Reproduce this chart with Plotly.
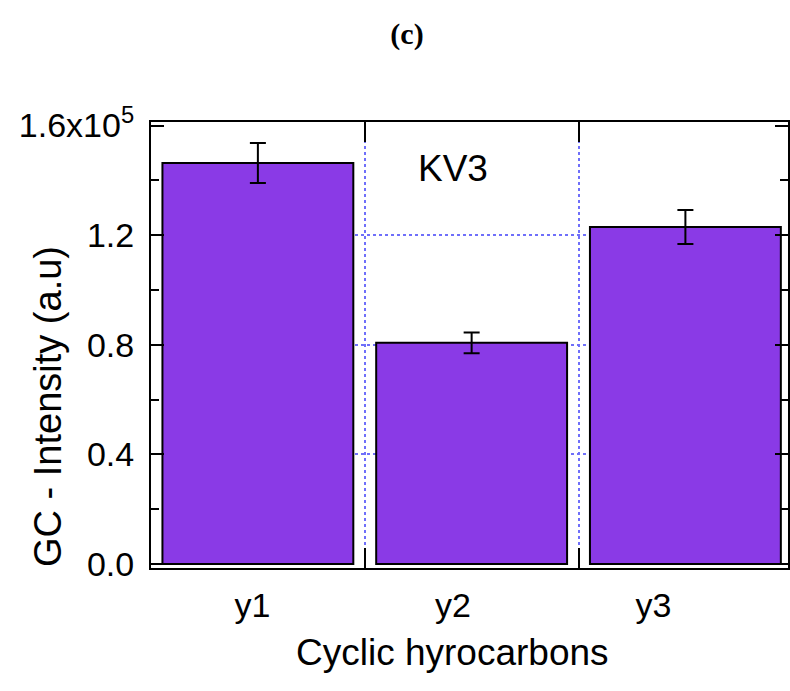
import plotly.graph_objects as go

categories = ["y1", "y2", "y3"]
intensity = [146300, 80700, 123000]
intensity_err = [7300, 3800, 6200]
ytick_vals = [0, 40000, 80000, 120000, 160000]
ytick_text = ["0.0", "0.4", "0.8", "1.2", "1.6x10<sup>5</sup>"]
yminor_vals = [20000, 60000, 100000, 140000]
ygrid_vals = [40000, 80000, 120000]

W, H = 790, 691
L, R, T, B = 151, 2, 122, 123
FONT = "Liberation Sans, Arial, sans-serif"
BAR = "#8a3ae6"
GRID = "#6f6ffa"
YRANGE = [-1500, 161300]

fig = go.Figure()
fig.add_trace(go.Bar(
    x=categories, y=intensity,
    marker=dict(color=BAR, line=dict(color="black", width=2)),
    error_y=dict(type="data", array=intensity_err, color="black", thickness=2, width=8),
    showlegend=False, hoverinfo="skip",
))
# invisible companion trace: carries the dotted horizontal gridlines (y2 overlay)
fig.add_trace(go.Scatter(
    x=categories, y=intensity, xaxis="x", yaxis="y2", mode="markers",
    marker=dict(opacity=0), showlegend=False, hoverinfo="skip",
))
# invisible companion trace: carries the category tick labels (x2)
fig.add_trace(go.Scatter(
    x=categories, y=intensity, xaxis="x2", yaxis="y", mode="markers",
    marker=dict(opacity=0), showlegend=False, hoverinfo="skip",
))

pw = W - L - R
d0 = (152.25 - L) / pw
d1 = (753.75 - L) / pw

fig.update_layout(
    width=W, height=H,
    margin=dict(l=L, r=R, t=T, b=B, pad=0),
    paper_bgcolor="white", plot_bgcolor="rgba(0,0,0,0)",
    bargap=0.107,
    title=dict(text="<b>(c)</b>", x=407 / W, xanchor="center", y=1 - 33 / H, yanchor="middle",
               automargin=False,
               font=dict(family="Liberation Serif, Times New Roman, serif", size=30, color="black")),
    xaxis=dict(
        type="category", domain=[0, 1], range=[-0.5, 2.48], tickson="boundaries", automargin=False,
        showticklabels=False, ticks="inside", ticklen=20, tickwidth=2, tickcolor="black",
        showline=True, linewidth=2, linecolor="black", mirror="ticks",
        showgrid=True, gridcolor=GRID, gridwidth=1.5, griddash="dot",
    ),
    xaxis2=dict(
        type="category", anchor="y", side="bottom", domain=[d0, d1],
        range=[-0.5, 2.5], automargin=False,
        showgrid=False, showline=False, zeroline=False, ticks="",
        tickfont=dict(family=FONT, size=34, color="black"), ticklabelstandoff=14,
    ),
    yaxis=dict(
        range=YRANGE, tickmode="array", tickvals=ytick_vals, ticktext=ytick_text,
        automargin=False, anchor="x",
        ticks="inside", ticklen=13, tickwidth=2, tickcolor="black",
        minor=dict(tickvals=yminor_vals, ticks="inside", ticklen=8, tickwidth=2, tickcolor="black", showgrid=False),
        showline=True, linewidth=2, linecolor="black", mirror="ticks",
        showgrid=False, zeroline=False,
        tickfont=dict(family=FONT, size=34, color="black"), ticklabelstandoff=8,
    ),
    yaxis2=dict(
        overlaying="y", anchor="x", range=YRANGE, tickmode="array", tickvals=ygrid_vals,
        automargin=False, showticklabels=False, ticks="", showline=False, zeroline=False,
        showgrid=True, gridcolor=GRID, gridwidth=1.5, griddash="dot",
    ),
    annotations=[
        dict(text="KV3", xref="paper", yref="paper", x=(453 - L) / pw, y=(H - B - 168) / (H - T - B),
             xanchor="center", yanchor="middle", showarrow=False,
             font=dict(family=FONT, size=37, color="black")),
        dict(text="GC - Intensity (a.u)", xref="paper", yref="paper",
             x=(48 - L) / pw, y=(H - B - 407) / (H - T - B), textangle=-90,
             xanchor="center", yanchor="middle", showarrow=False,
             font=dict(family=FONT, size=38, color="black")),
        dict(text="Cyclic hyrocarbons", xref="paper", yref="paper",
             x=(452 - L) / pw, y=(H - B - 652) / (H - T - B),
             xanchor="center", yanchor="middle", showarrow=False,
             font=dict(family=FONT, size=37, color="black")),
    ],
)

fig.write_html(
    "out.html",
    config={"displayModeBar": False},
    post_script="document.body.style.margin='0';document.body.style.overflow='hidden';",
)
